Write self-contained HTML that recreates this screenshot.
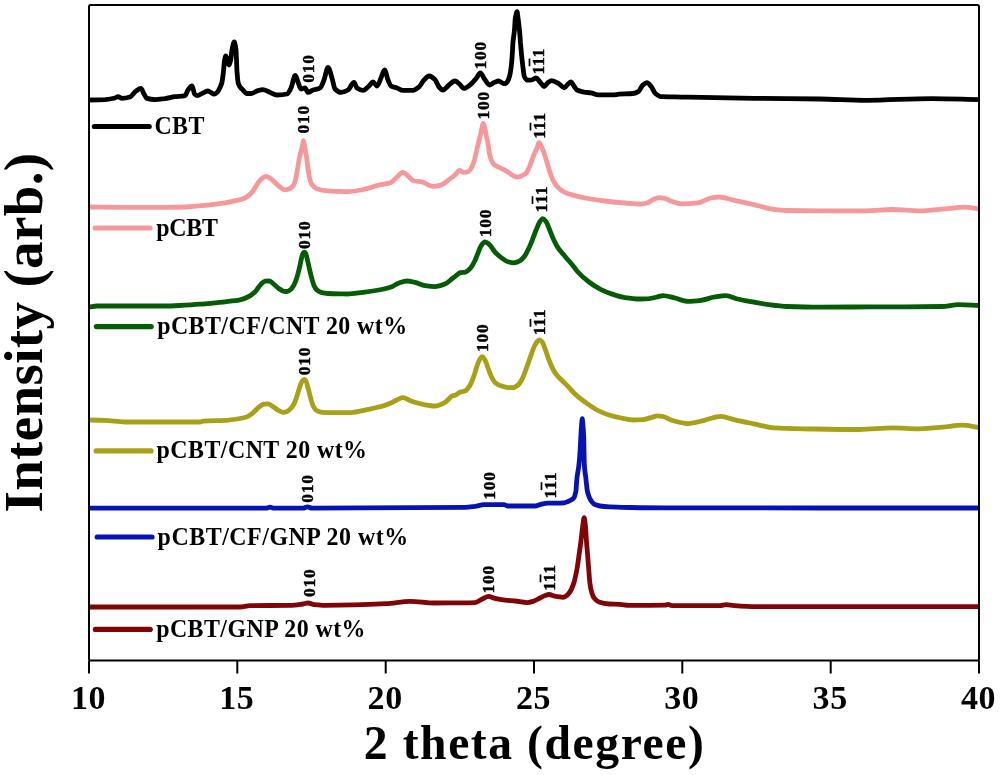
<!DOCTYPE html>
<html><head><meta charset="utf-8"><title>XRD</title>
<style>
html,body{margin:0;padding:0;background:#fff;}
svg{display:block;}
text{font-family:"Liberation Serif","DejaVu Serif",serif;font-weight:bold;fill:#000;filter:grayscale(1);}
.c{fill:none;stroke-width:4.8;stroke-linejoin:round;stroke-linecap:butt;}
.ob{font-size:13.4px;letter-spacing:0;text-anchor:start;stroke-width:0.8px;}
.lg{fill:none;stroke-width:5.2;stroke-linecap:round;}
.ax{stroke:#000;stroke-width:2;fill:none;}
.tk{font-size:34px;text-anchor:middle;letter-spacing:0.6px;}
.lt{font-size:25.2px;}
.pk{font-size:17.6px;letter-spacing:0.7px;text-anchor:middle;stroke:#000;stroke-width:0.45px;}
</style></head><body>
<svg width="1000" height="775" viewBox="0 0 1000 775">
<rect width="1000" height="775" fill="#fff"/>
<path class="c" stroke="#000000" d="M89.0,100.0C94.3,99.9 99.7,99.8 105.0,99.6C108.3,99.4 111.7,98.9 115.0,98.0C116.0,97.7 117.0,96.6 118.0,96.6C119.3,96.6 120.7,98.4 122.0,98.4C124.7,98.4 127.3,97.8 130.0,97.0C132.0,96.4 134.0,92.4 136.0,91.0C137.7,89.9 139.3,88.4 141.0,88.4C142.0,88.4 143.0,92.4 144.0,94.0C145.0,95.6 146.0,98.1 147.0,98.4C149.7,99.2 152.3,99.6 155.0,99.6C158.3,99.6 161.7,99.0 165.0,98.6C168.3,98.2 171.7,97.0 175.0,96.6C178.3,96.2 181.7,96.4 185.0,95.6C186.0,95.4 187.0,91.3 188.0,90.0C189.3,88.2 190.7,86.0 192.0,86.0C192.9,86.0 193.7,93.1 194.6,94.0C195.4,94.9 196.2,95.6 197.0,95.6C199.0,95.6 201.0,93.9 203.0,93.0C204.5,92.3 206.0,91.0 207.5,91.0C208.7,91.0 209.8,91.9 211.0,92.5C212.0,93.0 213.0,94.2 214.0,94.2C215.2,94.2 216.3,93.1 217.5,92.0C218.2,91.3 219.0,89.5 219.7,88.0C220.4,86.6 221.1,85.5 221.8,83.0C222.3,80.9 222.9,76.5 223.5,71.4C223.8,69.1 224.0,63.7 224.3,62.0C224.8,58.8 225.3,55.9 225.8,55.9C226.3,55.9 226.8,58.6 227.3,60.0C227.9,61.6 228.4,65.0 229.0,65.0C229.6,65.0 230.1,62.5 230.7,60.0C231.1,58.1 231.6,52.2 232.0,50.0C232.7,46.3 233.5,42.0 234.2,42.0C234.8,42.0 235.4,45.3 236.0,50.0C236.3,52.6 236.7,66.9 237.0,71.4C237.4,76.8 237.8,81.6 238.2,83.0C239.0,85.7 239.7,86.5 240.5,87.5C241.3,88.6 242.2,89.2 243.0,90.0C244.1,91.1 245.3,93.5 246.4,93.5C247.9,93.5 249.5,93.5 251.0,93.5C253.3,93.5 255.7,91.2 258.0,90.6C259.6,90.2 261.1,89.6 262.7,89.6C265.0,89.6 267.4,91.4 269.7,92.3C272.1,93.2 274.6,95.0 277.0,95.0C280.3,95.0 283.7,94.7 287.0,94.0C288.3,93.7 289.7,90.6 291.0,88.0C292.4,85.2 293.9,75.4 295.3,75.4C296.2,75.4 297.1,79.9 298.0,82.0C299.0,84.4 300.0,89.0 301.0,89.0C302.3,89.0 303.7,88.0 305.0,88.0C306.0,88.0 307.0,92.4 308.0,92.4C309.7,92.4 311.3,90.6 313.0,90.0C315.3,89.2 317.7,89.3 320.0,88.0C321.3,87.3 322.7,83.3 324.0,80.0C325.3,76.7 326.7,67.4 328.0,67.4C329.3,67.4 330.7,73.9 332.0,78.0C333.0,81.1 334.0,87.9 335.0,89.0C337.0,91.1 339.0,92.4 341.0,92.4C343.3,92.4 345.7,91.3 348.0,90.0C350.0,88.9 352.0,82.4 354.0,82.4C355.0,82.4 356.0,87.3 357.0,88.0C359.0,89.4 361.0,90.4 363.0,90.4C365.0,90.4 367.0,87.7 369.0,86.0C370.3,84.9 371.7,82.0 373.0,82.0C374.3,82.0 375.7,86.0 377.0,86.0C378.3,86.0 379.7,80.8 381.0,78.0C382.2,75.5 383.4,70.0 384.6,70.0C385.7,70.0 386.9,77.3 388.0,80.0C389.0,82.4 390.0,85.4 391.0,86.0C393.0,87.2 395.0,87.3 397.0,88.0C399.0,88.7 401.0,90.4 403.0,90.4C406.3,90.4 409.7,90.4 413.0,90.4C415.0,90.4 417.0,88.6 419.0,87.0C420.7,85.6 422.3,81.7 424.0,80.0C425.7,78.3 427.3,76.0 429.0,76.0C431.0,76.0 433.0,77.7 435.0,79.6C436.3,80.9 437.7,85.6 439.0,87.0C440.3,88.4 441.7,90.0 443.0,90.0C445.0,90.0 447.0,86.5 449.0,85.0C451.0,83.5 453.0,81.0 455.0,81.0C456.3,81.0 457.7,82.6 459.0,83.6C460.7,84.9 462.3,88.4 464.0,88.4C466.0,88.4 468.0,86.5 470.0,85.0C472.2,83.4 474.3,80.6 476.5,78.0C477.8,76.4 479.1,72.8 480.4,72.8C481.8,72.8 483.1,77.2 484.5,79.0C486.2,81.2 487.8,85.0 489.5,85.0C491.0,85.0 492.5,83.2 494.0,82.6C495.5,82.0 497.1,81.0 498.6,81.0C500.1,81.0 501.5,83.0 503.0,83.3C503.9,83.5 504.7,83.6 505.6,83.6C506.2,83.6 506.9,82.5 507.5,81.5C508.2,80.4 508.9,78.7 509.6,76.1C510.1,74.3 510.6,71.4 511.1,67.5C511.5,64.7 511.9,60.5 512.2,55.2C512.5,52.1 512.7,45.5 512.9,42.9C513.4,36.9 513.9,35.9 514.4,30.7C514.7,27.6 515.0,20.3 515.3,18.4C515.9,14.7 516.4,11.7 517.0,11.7C517.4,11.7 517.7,15.8 518.1,18.4C518.6,21.7 519.0,26.0 519.5,30.7C519.9,34.2 520.2,38.8 520.5,42.9C520.9,47.0 521.2,51.6 521.6,55.2C522.1,59.8 522.5,64.1 523.0,67.5C523.4,70.8 523.8,75.0 524.2,76.1C525.2,78.4 526.1,79.9 527.0,80.0C528.2,80.1 529.3,80.2 530.5,80.2C531.3,80.2 532.2,79.8 533.0,79.5C534.0,79.1 535.0,78.0 536.0,78.0C537.3,78.0 538.7,80.6 540.0,82.0C541.4,83.4 542.7,86.5 544.1,86.5C545.4,86.5 546.7,83.4 548.0,82.5C549.3,81.6 550.5,80.6 551.8,80.6C554.1,80.6 556.5,82.4 558.8,83.7C560.7,84.7 562.5,87.9 564.4,87.9C565.4,87.9 566.5,85.4 567.5,84.5C568.7,83.5 569.9,82.0 571.1,82.0C572.1,82.0 573.0,84.7 574.0,86.0C575.0,87.4 576.0,89.5 577.0,90.0C579.3,91.2 581.7,91.7 584.0,92.1C586.3,92.5 588.7,92.5 591.0,92.9C593.3,93.3 595.7,94.9 598.0,94.9C602.7,94.9 607.3,94.9 612.0,94.9C614.3,94.9 616.7,94.4 619.0,94.2C623.7,93.9 628.3,94.0 633.0,93.5C634.9,93.3 636.7,92.6 638.6,91.4C640.0,90.5 641.4,86.3 642.8,85.1C644.2,83.9 645.6,82.7 647.0,82.7C648.4,82.7 649.8,84.9 651.2,86.5C652.6,88.1 654.0,92.3 655.4,93.5C657.3,95.1 659.1,96.6 661.0,96.7C665.7,96.9 670.3,96.8 675.0,96.9C679.3,97.0 683.7,97.1 688.0,97.2C710.0,97.6 732.0,98.0 754.0,98.3C776.0,98.6 798.0,98.7 820.0,99.0C835.3,99.2 850.7,100.3 866.0,100.3C888.0,100.3 910.0,98.6 932.0,98.6C947.7,98.6 963.3,99.3 979.0,99.6"/>
<path class="c" stroke="#F5989C" d="M89.0,207.0C101.0,207.1 113.0,207.3 125.0,207.3C138.3,207.3 151.7,207.3 165.0,207.3C171.7,207.3 178.3,207.2 185.0,207.0C191.7,206.8 198.3,206.1 205.0,205.4C211.7,204.7 218.3,203.9 225.0,202.8C229.0,202.2 233.0,201.4 237.0,200.4C239.7,199.8 242.3,199.2 245.0,198.0C246.3,197.4 247.7,196.3 249.0,195.2C250.3,194.1 251.7,192.7 253.0,191.0C254.1,189.5 255.3,187.2 256.4,185.5C257.9,183.2 259.5,180.6 261.0,179.3C262.6,178.0 264.2,176.4 265.8,176.4C267.4,176.4 268.9,177.6 270.5,178.5C272.4,179.6 274.3,182.0 276.2,183.7C277.8,185.1 279.4,186.8 281.0,187.8C282.3,188.6 283.7,189.8 285.0,189.8C286.3,189.8 287.7,189.4 289.0,189.0C289.8,188.7 290.7,188.2 291.5,187.5C292.2,186.9 293.0,186.1 293.7,184.8C294.3,183.7 294.9,181.7 295.6,179.3C296.2,176.7 296.9,172.1 297.6,168.4C298.2,164.8 298.9,160.4 299.5,157.4C300.4,153.0 301.4,150.7 302.3,146.4C302.7,144.7 303.0,140.7 303.4,140.7C303.8,140.7 304.2,144.4 304.6,146.4C305.3,149.8 305.9,153.0 306.6,157.4C307.1,160.5 307.5,165.3 308.0,168.4C308.6,172.6 309.3,177.1 309.9,179.3C310.6,181.9 311.4,183.8 312.1,184.8C313.7,186.9 315.2,188.1 316.8,188.7C320.4,190.0 324.1,190.7 327.7,190.9C331.8,191.2 335.9,191.3 340.0,191.4C342.3,191.5 344.7,191.6 347.0,191.6C352.3,191.6 357.7,190.5 363.0,189.6C368.3,188.7 373.7,186.3 379.0,185.0C383.0,184.0 387.0,183.9 391.0,182.4C393.0,181.7 395.0,178.7 397.0,177.0C399.0,175.3 401.0,172.4 403.0,172.4C404.7,172.4 406.3,174.7 408.0,176.0C410.0,177.5 412.0,180.7 414.0,181.0C416.3,181.4 418.7,181.3 421.0,181.6C425.0,182.1 429.0,186.4 433.0,186.4C435.7,186.4 438.3,185.7 441.0,185.0C443.7,184.3 446.3,181.5 449.0,179.6C451.0,178.2 453.0,176.7 455.0,175.0C456.5,173.7 458.0,170.5 459.5,170.5C461.0,170.5 462.5,172.4 464.0,172.4C465.3,172.4 466.6,172.2 467.9,171.8C469.3,171.4 470.7,169.1 472.1,166.6C472.9,165.3 473.6,162.7 474.4,160.2C474.9,158.4 475.4,156.0 476.0,153.7C476.5,151.7 476.9,149.4 477.4,147.3C477.9,145.1 478.4,142.8 478.9,140.8C479.5,138.5 480.0,136.8 480.6,134.4C481.1,132.5 481.5,129.9 482.0,127.9C482.4,126.3 482.7,123.3 483.1,123.3C483.7,123.3 484.2,125.8 484.8,127.9C485.2,129.4 485.6,132.4 486.0,134.4C486.4,136.7 486.9,138.5 487.4,140.8C487.8,142.8 488.2,144.9 488.6,147.3C488.9,149.2 489.2,152.2 489.5,153.7C490.1,156.7 490.8,158.7 491.4,160.2C492.3,162.1 493.1,163.7 494.0,164.5C495.2,165.6 496.4,165.9 497.6,166.6C500.6,168.2 503.6,169.3 506.6,171.1C508.8,172.4 510.9,174.6 513.1,175.6C514.6,176.3 516.1,177.2 517.6,177.2C519.1,177.2 520.6,176.3 522.1,175.6C523.5,175.0 524.9,174.4 526.3,173.1C527.4,172.1 528.4,169.1 529.5,166.6C530.3,164.7 531.1,162.3 531.9,160.2C532.7,158.0 533.5,155.7 534.4,153.7C535.3,151.3 536.3,149.8 537.3,147.3C537.8,146.0 538.4,142.7 538.9,142.7C539.9,142.7 540.8,145.4 541.8,147.3C542.7,149.0 543.5,151.2 544.4,153.7C545.0,155.5 545.7,158.1 546.3,160.2C546.9,162.3 547.6,164.5 548.2,166.6C548.9,168.8 549.5,171.2 550.2,173.1C551.0,175.5 551.9,177.8 552.7,179.5C554.0,182.2 555.3,184.5 556.6,186.0C559.3,189.0 562.0,191.2 564.7,192.4C568.1,194.0 571.6,194.7 575.0,195.6C578.3,196.5 581.7,197.4 585.0,198.0C591.7,199.3 598.3,200.2 605.0,201.0C611.7,201.8 618.3,202.5 625.0,203.0C630.3,203.4 635.7,204.0 641.0,204.0C643.0,204.0 645.0,203.5 647.0,203.0C649.0,202.5 651.0,200.4 653.0,199.6C655.0,198.8 657.0,197.6 659.0,197.6C661.0,197.6 663.0,198.1 665.0,198.5C667.2,199.0 669.3,200.6 671.5,201.3C674.8,202.4 678.1,203.9 681.4,203.9C686.9,203.9 692.5,203.5 698.0,202.9C702.3,202.4 706.7,198.8 711.0,198.0C713.8,197.5 716.6,197.0 719.4,197.0C724.3,197.0 729.1,199.2 734.0,200.3C740.7,201.8 747.3,203.0 754.0,204.6C759.5,205.9 765.0,208.0 770.5,208.8C776.0,209.6 781.5,210.4 787.0,210.5C798.0,210.7 809.0,210.8 820.0,210.8C835.3,210.8 850.7,210.8 866.0,210.8C874.9,210.8 883.7,209.5 892.6,209.5C901.4,209.5 910.2,210.8 919.0,210.8C927.8,210.8 936.6,209.5 945.4,208.8C951.9,208.3 958.5,207.2 965.0,207.2C969.7,207.2 974.3,208.3 979.0,208.8"/>
<path class="c" stroke="#065C06" d="M89.0,307.0C91.7,306.7 94.3,306.0 97.0,306.0C113.0,306.0 129.0,306.0 145.0,306.0C151.7,306.0 158.3,306.0 165.0,306.0C171.7,306.0 178.3,305.5 185.0,305.2C191.7,304.9 198.3,304.3 205.0,303.8C211.7,303.3 218.3,302.5 225.0,301.8C228.3,301.4 231.7,301.1 235.0,300.6C236.7,300.4 238.3,300.2 240.0,299.8C242.9,299.2 245.9,298.0 248.8,296.5C251.0,295.4 253.2,293.6 255.4,291.5C257.2,289.8 259.0,286.1 260.8,284.4C262.3,283.0 263.7,281.3 265.2,281.1C266.5,280.9 267.8,280.8 269.1,280.8C270.4,280.8 271.6,282.4 272.9,283.3C274.7,284.7 276.6,286.9 278.4,288.2C280.2,289.5 282.1,291.1 283.9,291.3C285.0,291.4 286.0,291.5 287.1,291.5C288.6,291.5 290.0,290.1 291.5,288.8C292.6,287.8 293.7,285.7 294.8,283.3C295.7,281.3 296.7,278.3 297.6,275.1C298.3,272.6 299.1,269.5 299.8,266.3C300.3,264.0 300.9,260.6 301.4,258.6C302.0,256.4 302.5,253.9 303.1,253.2C303.5,252.6 304.0,252.1 304.4,252.1C304.9,252.1 305.3,252.9 305.8,253.7C306.3,254.6 306.9,257.5 307.4,259.7C308.1,262.7 308.9,266.5 309.6,269.6C310.3,272.7 311.1,275.8 311.8,278.4C312.5,281.0 313.3,283.9 314.0,285.5C314.9,287.5 315.9,289.1 316.8,289.9C318.2,291.2 319.7,292.0 321.1,292.4C323.3,293.0 325.5,293.4 327.7,293.5C331.8,293.7 335.9,293.8 340.0,293.9C342.3,293.9 344.7,294.0 347.0,294.0C352.3,294.0 357.7,293.0 363.0,292.4C368.3,291.8 373.7,291.0 379.0,290.0C383.0,289.2 387.0,288.4 391.0,287.0C393.7,286.1 396.3,283.9 399.0,283.0C401.7,282.1 404.3,281.0 407.0,281.0C409.7,281.0 412.3,281.8 415.0,282.4C418.3,283.1 421.7,285.1 425.0,285.6C428.3,286.1 431.7,286.6 435.0,286.6C438.3,286.6 441.7,285.3 445.0,284.0C447.7,283.0 450.3,279.9 453.0,278.0C453.7,277.5 454.3,277.1 455.0,276.6C456.7,275.4 458.5,273.1 460.2,272.7C461.9,272.4 463.6,272.4 465.3,272.1C467.0,271.7 468.8,270.0 470.5,268.2C471.8,266.8 473.1,264.4 474.4,261.8C475.5,259.7 476.5,256.6 477.6,254.0C478.7,251.4 479.7,247.9 480.8,246.3C482.2,244.2 483.5,241.8 484.9,241.8C486.5,241.8 488.2,243.6 489.8,245.0C491.5,246.5 493.3,250.2 495.0,252.1C497.2,254.5 499.3,256.3 501.5,257.9C503.6,259.4 505.8,261.2 507.9,261.8C509.8,262.3 511.8,262.8 513.7,262.8C515.6,262.8 517.6,262.0 519.5,261.1C521.2,260.3 523.0,258.3 524.7,256.0C526.0,254.3 527.2,251.5 528.5,248.9C529.8,246.2 531.1,243.0 532.4,239.8C533.7,236.6 535.0,232.6 536.3,229.5C537.4,226.9 538.4,224.1 539.5,222.4C540.6,220.7 541.6,218.6 542.7,218.6C543.8,218.6 544.9,220.2 546.0,221.6C547.3,223.2 548.5,227.2 549.8,230.2C551.1,233.3 552.4,237.0 553.7,239.8C555.2,243.0 556.7,246.0 558.2,248.2C560.4,251.4 562.5,253.4 564.7,256.0C568.1,260.1 571.6,263.7 575.0,268.2C575.7,269.1 576.3,270.2 577.0,271.0C581.0,275.7 585.0,279.0 589.0,282.0C593.0,285.0 597.0,287.6 601.0,289.6C605.0,291.6 609.0,293.1 613.0,294.4C617.0,295.7 621.0,297.0 625.0,297.6C629.0,298.2 633.0,299.0 637.0,299.0C641.0,299.0 645.0,298.8 649.0,298.6C651.7,298.4 654.3,297.6 657.0,297.0C659.0,296.6 661.0,295.6 663.0,295.6C667.0,295.6 671.0,297.1 675.0,298.0C679.3,299.0 683.7,301.3 688.0,301.3C692.3,301.3 696.7,300.8 701.0,300.3C705.5,299.8 709.9,297.7 714.4,297.0C718.3,296.4 722.1,295.6 726.0,295.6C729.8,295.6 733.7,298.1 737.5,299.0C743.0,300.3 748.5,301.2 754.0,302.2C759.5,303.2 765.0,304.2 770.5,304.9C776.0,305.6 781.5,306.3 787.0,306.5C798.0,306.9 809.0,307.2 820.0,307.2C836.5,307.2 853.0,307.0 869.5,306.9C893.7,306.8 917.8,306.8 942.0,306.5C947.5,306.4 953.1,304.6 958.6,304.6C965.4,304.6 972.2,305.2 979.0,305.5"/>
<path class="c" stroke="#A8A018" d="M89.0,420.0C94.3,420.1 99.7,420.2 105.0,420.4C111.7,420.6 118.3,422.0 125.0,422.0C150.0,422.0 175.0,422.0 200.0,422.0C201.0,422.0 202.0,421.3 203.0,421.2C210.3,420.6 217.7,420.8 225.0,420.4C230.0,420.1 235.0,419.3 240.0,418.5C242.2,418.1 244.4,417.7 246.6,417.0C248.8,416.3 251.0,414.3 253.2,412.6C255.4,410.9 257.5,408.1 259.7,406.6C261.2,405.6 262.6,404.2 264.1,404.1C265.4,404.0 266.7,403.9 268.0,403.9C269.6,403.9 271.3,405.6 272.9,406.6C274.7,407.7 276.6,409.5 278.4,410.4C280.0,411.2 281.7,412.4 283.3,412.4C284.6,412.4 285.8,412.0 287.1,411.5C288.6,411.0 290.0,409.4 291.5,407.7C292.6,406.4 293.7,404.6 294.8,402.2C295.7,400.2 296.7,396.9 297.6,394.0C298.4,391.4 299.3,387.9 300.1,385.8C300.9,383.8 301.7,381.6 302.5,380.8C303.1,380.2 303.8,379.5 304.4,379.5C305.0,379.5 305.5,380.5 306.1,381.4C306.8,382.6 307.5,386.0 308.2,388.5C309.0,391.5 309.9,395.6 310.7,398.4C311.6,401.6 312.6,405.0 313.5,406.6C314.6,408.5 315.7,410.1 316.8,410.7C318.6,411.6 320.4,412.4 322.2,412.4C328.1,412.6 334.1,412.6 340.0,412.6C343.7,412.6 347.3,412.6 351.0,412.6C356.3,412.6 361.7,410.7 367.0,409.6C372.3,408.5 377.7,407.6 383.0,406.0C386.3,405.0 389.7,403.4 393.0,402.0C396.3,400.6 399.7,397.6 403.0,397.6C405.7,397.6 408.3,400.1 411.0,401.0C415.0,402.4 419.0,403.7 423.0,404.4C427.0,405.1 431.0,406.0 435.0,406.0C438.3,406.0 441.7,404.1 445.0,402.4C447.7,401.0 450.3,396.2 453.0,395.6C453.7,395.5 454.3,395.4 455.0,395.3C456.7,394.9 458.5,392.7 460.2,392.1C461.9,391.5 463.6,391.5 465.3,390.8C466.8,390.2 468.3,387.9 469.8,385.6C471.1,383.6 472.4,380.1 473.7,376.6C474.8,373.7 475.8,369.3 476.9,366.3C477.8,363.9 478.6,361.2 479.5,359.8C480.4,358.4 481.2,356.6 482.1,356.6C483.0,356.6 484.0,358.3 484.9,359.8C485.9,361.4 486.9,365.0 487.9,367.6C489.0,370.4 490.0,373.8 491.1,376.0C492.4,378.6 493.7,381.2 495.0,382.4C496.7,384.0 498.5,384.9 500.2,385.6C502.3,386.4 504.5,387.1 506.6,387.3C508.8,387.5 510.9,387.6 513.1,387.6C514.8,387.6 516.5,386.3 518.2,385.0C519.7,383.8 521.2,380.9 522.7,377.9C524.0,375.3 525.3,371.1 526.6,367.6C527.9,364.1 529.2,360.1 530.5,356.6C531.8,353.1 533.1,348.9 534.4,346.3C535.5,344.2 536.5,342.1 537.6,341.1C538.2,340.5 538.9,339.8 539.5,339.8C540.4,339.8 541.2,340.8 542.1,341.8C543.2,343.0 544.2,346.7 545.3,349.5C546.6,352.9 547.9,357.2 549.2,360.5C550.5,363.8 551.8,367.1 553.1,369.5C554.4,371.8 555.6,373.8 556.9,375.3C558.6,377.4 560.4,378.8 562.1,380.5C564.2,382.6 566.4,384.7 568.5,386.9C570.7,389.2 572.8,392.0 575.0,394.0C578.3,397.1 581.7,399.6 585.0,402.0C589.0,404.9 593.0,407.9 597.0,410.0C601.0,412.1 605.0,413.8 609.0,415.0C613.0,416.2 617.0,417.2 621.0,418.0C625.0,418.8 629.0,420.0 633.0,420.0C636.3,420.0 639.7,419.8 643.0,419.6C645.7,419.4 648.3,418.3 651.0,417.6C653.3,417.0 655.7,415.8 658.0,415.8C659.7,415.8 661.3,416.2 663.0,416.5C665.8,417.1 668.7,419.5 671.5,420.3C677.0,421.9 682.5,423.6 688.0,423.6C693.5,423.6 699.0,421.5 704.5,420.3C710.0,419.1 715.5,416.3 721.0,416.3C725.3,416.3 729.7,418.6 734.0,419.6C740.7,421.2 747.3,422.5 754.0,423.9C760.7,425.3 767.3,427.5 774.0,427.9C783.8,428.4 793.7,428.6 803.5,428.8C822.2,429.1 840.9,429.5 859.6,429.5C870.6,429.5 881.6,427.9 892.6,427.9C901.4,427.9 910.2,428.8 919.0,428.8C927.8,428.8 936.6,427.7 945.4,426.9C950.9,426.4 956.5,425.2 962.0,425.2C967.7,425.2 973.3,426.7 979.0,427.5"/>
<path class="c" stroke="#0812B4" d="M89.0,508.2C148.0,508.2 207.0,508.2 266.0,508.2C267.3,508.2 268.7,507.2 270.0,507.2C271.3,507.2 272.7,508.2 274.0,508.2C283.7,508.2 293.3,508.2 303.0,508.2C304.5,508.2 306.0,506.8 307.5,506.8C309.0,506.8 310.5,508.2 312.0,508.2C363.0,508.2 414.0,508.1 465.0,507.4C468.3,507.4 471.7,506.8 475.0,506.4C478.0,506.0 481.0,504.7 484.0,504.7C490.7,504.7 497.3,504.7 504.0,504.7C505.3,504.7 506.7,506.0 508.0,506.0C517.0,506.0 526.0,506.0 535.0,506.0C536.7,506.0 538.3,505.0 540.0,504.6C542.7,504.0 545.3,503.2 548.0,503.2C550.7,503.2 553.3,503.2 556.0,503.2C558.7,503.2 561.3,503.1 564.0,502.8C565.3,502.7 566.7,502.0 568.0,501.5C569.0,501.1 570.0,500.6 571.0,500.0C571.9,499.5 572.8,499.1 573.7,498.0C574.4,497.1 575.1,494.9 575.9,491.2C576.2,489.1 576.6,481.2 577.0,477.7C577.7,472.0 578.4,470.1 579.0,464.2C579.4,460.9 579.7,456.2 580.1,450.6C580.3,447.0 580.6,441.0 580.8,437.0C581.1,431.9 581.4,427.0 581.7,423.5C581.9,421.6 582.0,418.6 582.2,418.6C582.4,418.6 582.6,421.4 582.8,423.5C583.1,426.6 583.4,429.6 583.7,437.0C583.8,439.5 583.9,446.1 584.0,450.6C584.1,455.1 584.2,462.4 584.3,464.2C584.8,472.9 585.3,473.5 585.8,477.7C586.3,482.5 586.9,488.7 587.4,491.2C588.1,494.6 588.9,496.4 589.6,498.0C590.4,499.7 591.2,501.1 592.0,502.0C593.0,503.2 594.0,504.2 595.0,504.6C596.7,505.3 598.3,505.8 600.0,506.0C603.3,506.4 606.7,506.6 610.0,506.8C616.7,507.1 623.3,507.4 630.0,507.5C641.7,507.7 653.3,507.9 665.0,507.9C769.7,508.0 874.3,508.0 979.0,508.0"/>
<path class="c" stroke="#800508" d="M89.0,607.0C139.3,607.0 189.7,607.0 240.0,607.0C243.3,607.0 246.7,605.6 250.0,605.6C263.3,605.4 276.7,605.6 290.0,605.4C294.3,605.4 298.7,604.6 303.0,604.0C304.7,603.8 306.3,603.0 308.0,603.0C310.0,603.0 312.0,604.4 314.0,604.6C317.7,605.0 321.3,605.4 325.0,605.4C345.3,605.4 365.7,604.7 386.0,603.7C394.0,603.3 402.0,601.3 410.0,601.3C418.0,601.3 426.0,603.0 434.0,603.0C444.3,603.0 454.7,602.9 465.0,602.8C468.3,602.8 471.7,602.7 475.0,602.6C477.3,602.5 479.7,600.3 482.0,599.2C484.2,598.2 486.3,596.4 488.5,596.4C490.7,596.4 492.8,597.9 495.0,598.4C498.3,599.2 501.7,599.8 505.0,600.2C508.3,600.6 511.7,600.7 515.0,601.0C519.0,601.4 523.0,602.6 527.0,602.6C529.0,602.6 531.0,602.0 533.0,601.4C535.3,600.7 537.7,599.1 540.0,598.0C541.7,597.2 543.3,596.2 545.0,595.6C546.3,595.1 547.7,594.5 549.0,594.5C551.0,594.5 553.0,595.8 555.0,596.2C556.3,596.5 557.7,596.6 559.0,596.8C560.3,597.0 561.5,597.3 562.8,597.3C563.9,597.3 564.9,596.6 566.0,596.0C567.0,595.4 568.1,594.3 569.1,593.0C570.7,591.0 572.2,587.7 573.8,583.1C574.9,580.0 575.9,574.6 577.0,568.9C577.7,565.0 578.4,559.7 579.1,554.7C579.7,550.3 580.4,545.5 581.0,540.5C581.6,536.0 582.1,530.3 582.7,526.3C583.2,523.0 583.6,517.7 584.1,517.7C584.6,517.7 585.0,522.0 585.5,526.3C585.8,529.0 586.1,536.4 586.4,540.5C586.8,545.9 587.2,549.8 587.6,554.7C588.0,559.2 588.3,564.4 588.7,568.9C589.1,573.8 589.5,580.2 589.9,583.1C590.5,587.9 591.2,591.0 591.9,593.0C592.7,595.7 593.6,597.5 594.5,598.5C596.2,600.5 598.0,601.8 599.7,602.3C602.8,603.3 605.9,603.8 609.0,604.0C612.7,604.2 616.3,604.2 620.0,604.4C623.0,604.6 626.0,605.4 629.0,605.4C641.0,605.4 653.0,605.4 665.0,605.2C666.0,605.2 667.0,604.4 668.0,604.4C669.3,604.4 670.7,605.6 672.0,605.6C688.0,605.6 704.0,605.6 720.0,605.6C722.0,605.6 724.0,604.6 726.0,604.6C728.7,604.6 731.3,605.4 734.0,605.6C741.3,606.1 748.7,606.6 756.0,606.6C830.3,606.7 904.7,606.7 979.0,606.7"/>
<rect class="ax" x="89" y="5" width="890" height="655.5" rx="1.5"/>
<line class="ax" x1="89.0" y1="660.5" x2="89.0" y2="673.5"/>
<text class="tk" x="88.5" y="709">10</text>
<line class="ax" x1="237.3" y1="660.5" x2="237.3" y2="673.5"/>
<text class="tk" x="236.8" y="709">15</text>
<line class="ax" x1="385.7" y1="660.5" x2="385.7" y2="673.5"/>
<text class="tk" x="385.2" y="709">20</text>
<line class="ax" x1="534.0" y1="660.5" x2="534.0" y2="673.5"/>
<text class="tk" x="533.5" y="709">25</text>
<line class="ax" x1="682.3" y1="660.5" x2="682.3" y2="673.5"/>
<text class="tk" x="681.8" y="709">30</text>
<line class="ax" x1="830.7" y1="660.5" x2="830.7" y2="673.5"/>
<text class="tk" x="830.2" y="709">35</text>
<line class="ax" x1="979.0" y1="660.5" x2="979.0" y2="673.5"/>
<text class="tk" x="978.5" y="709">40</text>
<line class="lg" stroke="#000000" x1="94.4" y1="126.5" x2="149.2" y2="126.5"/>
<text class="lt" transform="translate(154.4,134.2) scale(0.95,1)" style="letter-spacing:0.41px">CBT</text>
<line class="lg" stroke="#F5989C" x1="95.2" y1="228" x2="150.0" y2="228"/>
<text class="lt" transform="translate(156.2,235.9) scale(0.95,1)" style="letter-spacing:-0.22px">pCBT</text>
<line class="lg" stroke="#065C06" x1="96.4" y1="326.6" x2="151.2" y2="326.6"/>
<text class="lt" transform="translate(157.2,334.0) scale(0.95,1)" style="letter-spacing:0.44px">pCBT/CF/CNT 20 wt%</text>
<line class="lg" stroke="#A8A018" x1="96.2" y1="450.9" x2="151.0" y2="450.9"/>
<text class="lt" transform="translate(156.6,458.2) scale(0.95,1)" style="letter-spacing:0.46px">pCBT/CNT 20 wt%</text>
<line class="lg" stroke="#0812B4" x1="97.2" y1="537" x2="152.0" y2="537"/>
<text class="lt" transform="translate(157.6,544.8) scale(0.95,1)" style="letter-spacing:0.54px">pCBT/CF/GNP 20 wt%</text>
<line class="lg" stroke="#800508" x1="95.4" y1="629.4" x2="150.2" y2="629.4"/>
<text class="lt" transform="translate(156.2,637.3) scale(0.95,1)" style="letter-spacing:0.44px">pCBT/GNP 20 wt%</text>
<text class="pk" transform="translate(314.2,68.6) rotate(-90)">010</text>
<text class="pk" transform="translate(485.8,55.2) rotate(-90)">100</text>
<text class="pk" transform="translate(543.9,61.3) rotate(-90)">111<tspan class="ob" x="-4.4" y="-4.7">¯</tspan></text>
<text class="pk" transform="translate(309.0,119.3) rotate(-90)">010</text>
<text class="pk" transform="translate(488.8,105.2) rotate(-90)">100</text>
<text class="pk" transform="translate(545.0,125.5) rotate(-90)">111<tspan class="ob" x="-4.4" y="-4.7">¯</tspan></text>
<text class="pk" transform="translate(309.7,234.7) rotate(-90)">010</text>
<text class="pk" transform="translate(490.8,222.9) rotate(-90)">100</text>
<text class="pk" transform="translate(546.8,199.1) rotate(-90)">111<tspan class="ob" x="-4.4" y="-4.7">¯</tspan></text>
<text class="pk" transform="translate(309.7,360.9) rotate(-90)">010</text>
<text class="pk" transform="translate(487.6,337.8) rotate(-90)">100</text>
<text class="pk" transform="translate(545.0,321.9) rotate(-90)">111<tspan class="ob" x="-4.4" y="-4.7">¯</tspan></text>
<text class="pk" transform="translate(313.4,488.4) rotate(-90)">010</text>
<text class="pk" transform="translate(494.9,485.6) rotate(-90)">100</text>
<text class="pk" transform="translate(556.1,485.1) rotate(-90)">111<tspan class="ob" x="-4.4" y="-4.7">¯</tspan></text>
<text class="pk" transform="translate(315.3,582.7) rotate(-90)">010</text>
<text class="pk" transform="translate(493.8,579.3) rotate(-90)">100</text>
<text class="pk" transform="translate(554.8,577.4) rotate(-90)">111<tspan class="ob" x="-4.4" y="-4.7">¯</tspan></text>
<text x="534.6" y="759.2" text-anchor="middle" style="font-size:47.6px;letter-spacing:1.58px">2 theta (degree)</text>
<text transform="translate(41.8,332.6) rotate(-90)" text-anchor="middle" style="font-size:55px;letter-spacing:0.35px">Intensity (arb.)</text>
</svg></body></html>
